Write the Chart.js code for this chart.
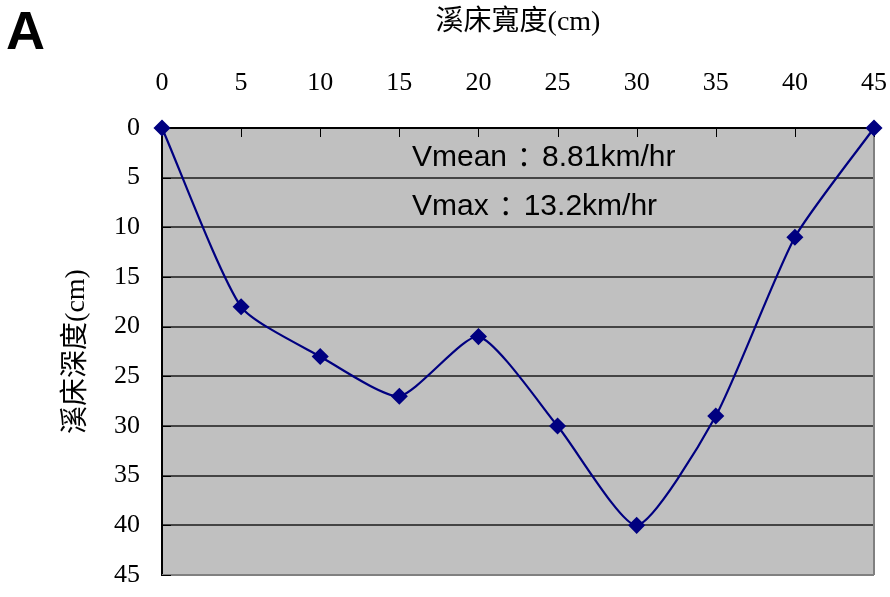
<!DOCTYPE html>
<html>
<head>
<meta charset="utf-8">
<script src="https://cdn.jsdelivr.net/npm/chart.js@4/dist/chart.umd.min.js"></script>
<style>
  html, body { margin: 0; padding: 0; background: #ffffff; }
  #wrap { position: relative; width: 890px; height: 597px; }
  canvas { display: block; }
</style>
</head>
<body>
<div id="wrap"><canvas id="c" width="890" height="597"></canvas></div>
<script>
// Stream cross-section: width across the bed (cm) and depth below the surface (cm)
const widths = [0, 5, 10, 15, 20, 25, 30, 35, 40, 45];
const depths = [0, 18, 23, 27, 21, 30, 40, 29, 11, 0];
const axisTicks = [0, 5, 10, 15, 20, 25, 30, 35, 40, 45];
const noteNames = ['Vmean', 'Vmax'];
const noteValues = ['8.81km/hr', '13.2km/hr'];
const panelLetter = 'A';

const serif = '"Liberation Serif", "Times New Roman", "Noto Sans CJK TC", serif';
const sans = '"Liberation Sans", Arial, "Noto Sans CJK TC", sans-serif';
const cjk = '"Noto Sans CJK TC", sans-serif';

// Grey plot panel, short inside tick marks, borders, velocity notes and panel letter
const decor = {
  id: 'decor',
  beforeDraw(chart) {
    const { ctx, chartArea: a } = chart;
    ctx.save();
    ctx.fillStyle = '#c0c0c0';
    ctx.fillRect(a.left, a.top, a.right - a.left, a.bottom - a.top);
    ctx.restore();
  },
  beforeDatasetsDraw(chart) {
    const { ctx, chartArea: a, scales } = chart;
    ctx.save();
    // right and bottom frame edges
    ctx.strokeStyle = '#808080';
    ctx.lineWidth = 2;
    ctx.beginPath();
    ctx.moveTo(a.right, a.top); ctx.lineTo(a.right, a.bottom);
    ctx.moveTo(a.left, a.bottom); ctx.lineTo(a.right, a.bottom);
    ctx.stroke();
    // inside tick marks
    ctx.strokeStyle = '#000000';
    ctx.lineWidth = 1;
    ctx.beginPath();
    axisTicks.forEach(v => {
      const x = Math.round(scales.x.getPixelForValue(v)) + 0.5;
      ctx.moveTo(x, a.top); ctx.lineTo(x, a.top + 9);
      const y = Math.round(scales.y.getPixelForValue(v)) + 0.5;
      ctx.moveTo(a.left, y); ctx.lineTo(a.left + 9, y);
    });
    ctx.stroke();
    ctx.restore();
  },
  afterDraw(chart) {
    const { ctx, scales } = chart;
    ctx.save();
    ctx.fillStyle = '#000000';
    ctx.textBaseline = 'middle';
    const x0 = scales.x.getPixelForValue(15.8);
    const rows = [3.0, 7.9];
    noteNames.forEach((name, i) => {
      const y = scales.y.getPixelForValue(rows[i]);
      ctx.textAlign = 'left';
      ctx.font = '30px ' + sans;
      ctx.fillText(name, x0, y);
      const w = ctx.measureText(name).width;
      ctx.textAlign = 'center';
      ctx.font = '28px ' + cjk;
      ctx.fillText('：', x0 + w + 17, y);
      ctx.textAlign = 'left';
      ctx.font = '30px ' + sans;
      ctx.fillText(noteValues[i], x0 + w + 35, y);
    });
    ctx.font = 'bold 54px ' + sans;
    ctx.textAlign = 'left';
    ctx.textBaseline = 'alphabetic';
    ctx.fillText(panelLetter, 6, 49);
    ctx.restore();
  }
};

new Chart(document.getElementById('c'), {
  type: 'line',
  data: {
    datasets: [{
      data: widths.map((w, i) => ({ x: w, y: depths[i] })),
      borderColor: '#000080',
      backgroundColor: '#000080',
      borderWidth: 2.2,
      pointStyle: 'rectRot',
      pointRadius: 7,
      pointHoverRadius: 7,
      tension: 0.2,
      fill: false,
      clip: false
    }]
  },
  options: {
    responsive: false,
    animation: false,
    events: [],
    layout: { padding: { left: 60, top: 0, right: 16, bottom: 22 } },
    plugins: { legend: { display: false }, tooltip: { enabled: false } },
    scales: {
      x: {
        type: 'linear',
        position: 'top',
        min: 0, max: 45,
        afterBuildTicks(s) { s.ticks = axisTicks.map(v => ({ value: v })); },
        afterFit(s) { s.height = 128; s.paddingLeft = 0; s.paddingRight = 0; },
        ticks: { color: '#000', font: { family: serif, size: 26 }, padding: 29, maxRotation: 0 },
        grid: { drawOnChartArea: false, drawTicks: false },
        border: { color: '#000', width: 2 },
        title: { display: true, text: '溪床寬度(cm)', color: '#000', font: { family: serif, size: 28 }, padding: { top: 6, bottom: 0 } }
      },
      y: {
        type: 'linear',
        reverse: true,
        min: 0, max: 45,
        afterBuildTicks(s) { s.ticks = axisTicks.map(v => ({ value: v })); },
        afterFit(s) { s.width = 102; s.paddingTop = 0; s.paddingBottom = 0; },
        ticks: { color: '#000', font: { family: serif, size: 26 }, padding: 22 },
        grid: { color: '#444444', lineWidth: 2, drawTicks: false },
        border: { color: '#000', width: 2 },
        title: { display: true, text: '溪床深度(cm)', color: '#000', font: { family: serif, size: 28 }, padding: { top: 0, bottom: 0 } }
      }
    }
  },
  plugins: [decor]
});
</script>
</body>
</html>
